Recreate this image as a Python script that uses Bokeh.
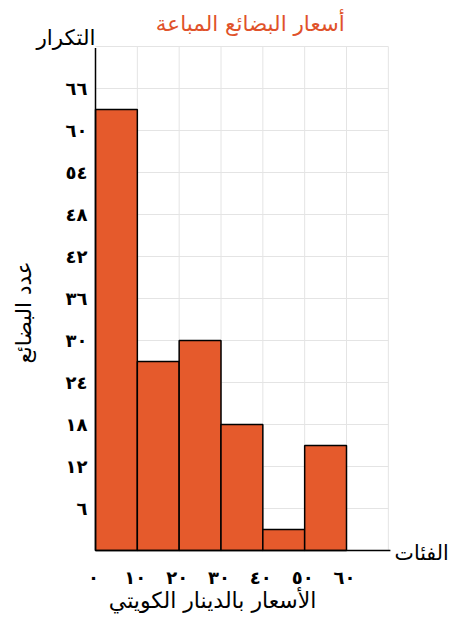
import math
from bokeh.plotting import figure
from bokeh.models import Range1d, ColumnDataSource, Label
from bokeh.core.properties import value
from bokeh.embed import file_html
from bokeh.resources import INLINE

# Price classes (Kuwaiti dinar) and number of goods sold in each class
class_lower = [0, 10, 20, 30, 40, 50]
class_upper = [10, 20, 30, 40, 50, 60]
frequency = [63, 27, 30, 18, 3, 15]

x_ticks = [0, 10, 20, 30, 40, 50, 60]
x_tick_labels = ["٠", "١٠", "٢٠", "٣٠", "٤٠", "٥٠", "٦٠"]
y_ticks = [6, 12, 18, 24, 30, 36, 42, 48, 54, 60, 66]
y_tick_labels = ["٦", "١٢", "١٨", "٢٤", "٣٠", "٣٦", "٤٢", "٤٨", "٥٤", "٦٠", "٦٦"]

title_text = "أسعار البضائع المباعة"
y_head_text = "التكرار"
y_label_text = "عدد البضائع"
x_head_text = "الفئات"
x_label_text = "الأسعار بالدينار الكويتي"

AR_FONT = "DejaVu Sans"
BAR_COLOR = "#E55A2C"
GRID_COLOR = "#e4e4e4"

# extent of the grid paper
X_MAX = 70
Y_MAX = 72

# pixel scale: 60 dinars span 251 px, 6 goods span 42 px
SX = 251 / 60
SY = 42 / 6
W, H = 454, 625
LEFT_PX, BASE_PX = 95, 550

p = figure(
    width=W, height=H,
    x_range=Range1d(-LEFT_PX / SX, (W - LEFT_PX) / SX),
    y_range=Range1d(-(H - BASE_PX) / SY, BASE_PX / SY),
    x_axis_type=None, y_axis_type=None,
    output_backend="svg", toolbar_location=None,
    min_border=0, title=None,
    background_fill_color="white", border_fill_color="white",
)
p.outline_line_color = None

# grid paper
gx = [v for v in range(10, X_MAX + 1, 10)]
gy = [v for v in range(6, Y_MAX + 1, 6)]
p.segment(x0=gx, y0=[0] * len(gx), x1=gx, y1=[Y_MAX] * len(gx),
          line_color=GRID_COLOR, line_width=1)
p.segment(x0=[0] * len(gy), y0=gy, x1=[X_MAX] * len(gy), y1=gy,
          line_color=GRID_COLOR, line_width=1)

# histogram bars
src = ColumnDataSource(dict(left=class_lower, right=class_upper,
                            top=frequency, bottom=[0] * len(frequency)))
p.quad(left="left", right="right", top="top", bottom="bottom", source=src,
       fill_color=BAR_COLOR, line_color="black", line_width=1.5)

# axis lines
p.segment(x0=[0, 0], y0=[0, 0], x1=[0, X_MAX + 0.5], y1=[Y_MAX - 0.2, 0],
          line_color="black", line_width=1.5)

# tick labels
p.text(x=x_ticks, y=[0] * len(x_ticks), text=x_tick_labels,
       text_font=value(AR_FONT), text_font_size="18px", text_color="black",
       text_font_style="bold",
       text_align="center", text_baseline="middle", y_offset=27, x_offset=-2)
p.text(x=[0] * len(y_ticks), y=y_ticks, text=y_tick_labels,
       text_font=value(AR_FONT), text_font_size="18px", text_color="black",
       text_font_style="bold",
       text_align="right", text_baseline="middle", x_offset=-8)

# titles and axis names
p.add_layout(Label(x=37, y=75.3, text=title_text, text_font=AR_FONT,
                   text_font_size="21.5px", text_color="#E0522A",
                   text_align="center", text_baseline="middle"))
p.add_layout(Label(x=0, y=73.3, text=y_head_text, text_font=AR_FONT,
                   text_font_size="21.5px", text_color="black",
                   text_align="right", text_baseline="middle"))
p.add_layout(Label(x=71.5, y=-0.3, text=x_head_text, text_font=AR_FONT,
                   text_font_size="20.5px", text_color="black",
                   text_align="left", text_baseline="middle"))
p.add_layout(Label(x=28, y=-7.1, text=x_label_text, text_font=AR_FONT,
                   text_font_size="22px", text_color="black",
                   text_align="center", text_baseline="middle"))
p.add_layout(Label(x=-17.3, y=34, text=y_label_text, text_font=AR_FONT,
                   text_font_size="21.5px", text_color="black", angle=math.pi / 2,
                   text_align="center", text_baseline="middle"))

open("out.html", "w").write(file_html(p, INLINE))
